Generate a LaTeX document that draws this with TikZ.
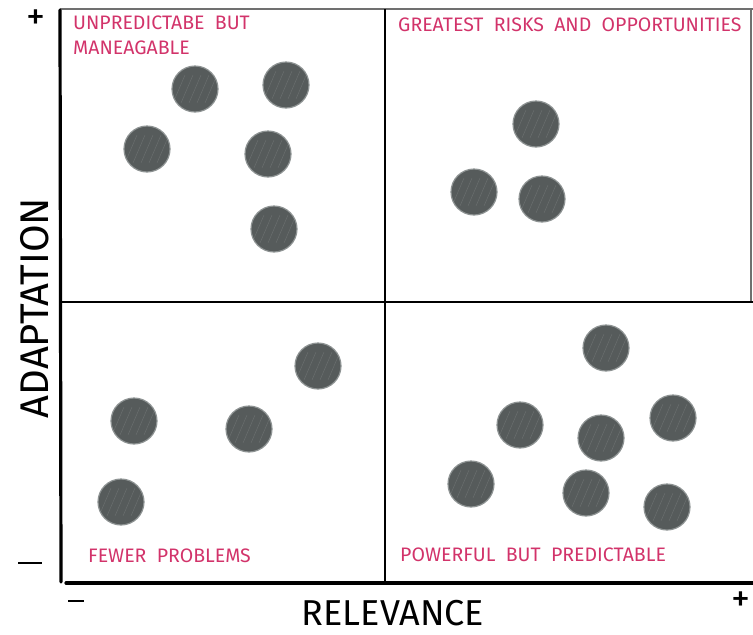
\documentclass[tikz,border=0pt]{standalone}
\usepackage{fontspec}
\setmainfont{Fira Sans}
\definecolor{dotfill}{HTML}{565B5B}
\definecolor{dotrim}{HTML}{8E9393}
\definecolor{labelpink}{HTML}{D2336A}
\definecolor{thinline}{HTML}{333333}
\begin{document}
\begin{tikzpicture}[x=1pt,y=-1pt,
  dot/.style={circle,minimum size=46pt,inner sep=0pt,fill=dotfill,draw=dotrim,line width=1.2pt,
    path picture={
      \foreach \k in {-16,-8,0,8,16}{
        \draw[white,opacity=0.12,line width=0.5pt]
          ([xshift=\k pt-6pt,yshift=-14pt]path picture bounding box.center) --
          ([xshift=\k pt+6pt,yshift=14pt]path picture bounding box.center);}
    }},
  quadlabel/.style={text=labelpink,font=\fontsize{19.5}{25}\selectfont,anchor=west,inner sep=0pt,align=left},
  axislabel/.style={text=black,font=\fontsize{40}{44}\selectfont,inner sep=0pt},
  sign/.style={text=black,font=\fontsize{38}{38}\selectfont,inner sep=0pt},
  thickaxis/.style={line width=3.2pt,black,line cap=round},
  divider/.style={line width=1.3pt,black}]
\useasboundingbox (0,0) rectangle (753,635);
% frame corners
\coordinate (tl) at (60,9);
\coordinate (tr) at (753,9);
\coordinate (bl) at (60,583);
\coordinate (br) at (753,583);
\coordinate (mt) at (385,9);
\coordinate (mb) at (385,583);
\coordinate (ml) at (60,302);
\coordinate (mr) at (753,302);
% outer thin frame
\draw[line width=1.6pt,thinline!70] (tl) -- (tr);
\draw[line width=1.2pt,thinline!70] (751,9) -- (751,302);
% dividers
\draw[divider] (mt) -- (mb);
\draw[divider] (ml) -- (mr);
% axes
\draw[thickaxis] (60,10) -- (61,582);
\draw[thickaxis] (66,583) -- (br);
% quadrant labels
\node[quadlabel] (q1) at (73,35) {UNPREDICTABE\ \ BUT\\MANEAGABLE};
\node[quadlabel] (q2) at (398,25) {GREATEST\ \ RISKS\ \ AND\ \ OPPORTUNITIES};
\node[quadlabel] (q3) at (88,556) {FEWER\ \ PROBLEMS};
\node[quadlabel] (q4) at (400,555) {POWERFUL\ \ BUT\ \ PREDICTABLE};
% axis labels
\node[axislabel,rotate=90] (ya) at (35,308) {ADAPTATION};
\node[axislabel,font=\fontsize{36}{40}\selectfont] (xa) at (393,613) {RELEVANCE};
% signs
\node[sign] (yp) at (36,20) {+};
\node[sign] (ym) at (30,563) {\rule{24pt}{2.2pt}};
\node[sign] (xm) at (76,601) {\rule{16pt}{2.2pt}};
\node[sign] (xp) at (741,602) {+};
% dots: top-left
\node[dot] (a1) at (195,89) {};
\node[dot] (a2) at (286,85) {};
\node[dot] (a3) at (147,149) {};
\node[dot] (a4) at (268,154) {};
\node[dot] (a5) at (274,229) {};
% top-right
\node[dot] (b1) at (536,124) {};
\node[dot] (b2) at (474,192) {};
\node[dot] (b3) at (542,199) {};
% bottom-left
\node[dot] (c1) at (318,366) {};
\node[dot] (c2) at (134,421) {};
\node[dot] (c3) at (249,429) {};
\node[dot] (c4) at (121,502) {};
% bottom-right
\node[dot] (d1) at (606,348) {};
\node[dot] (d2) at (520,425) {};
\node[dot] (d3) at (673,418) {};
\node[dot] (d4) at (601,438) {};
\node[dot] (d5) at (471,484) {};
\node[dot] (d6) at (586,493) {};
\node[dot] (d7) at (667,507) {};
\end{tikzpicture}
\end{document}
